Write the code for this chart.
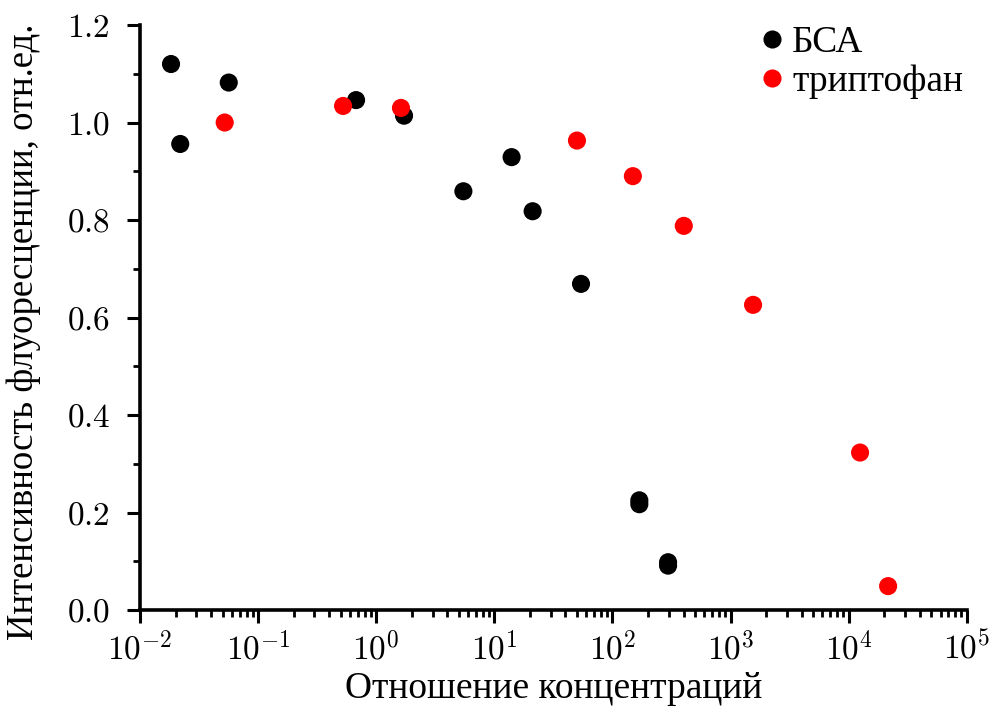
import pandas as pd, numpy as np, matplotlib
matplotlib.use("Agg")
import matplotlib.pyplot as plt, seaborn as sns
from matplotlib.ticker import FuncFormatter, MultipleLocator, LogLocator

# Данные
bsa_x = [0.0183, 0.0219, 0.0564, 0.675, 1.72, 5.47, 14.0, 21.1, 54.2, 169, 169, 296, 296]
bsa_y = [1.120, 0.956, 1.082, 1.046, 1.014, 0.859, 0.929, 0.818, 0.669, 0.225, 0.217, 0.098, 0.091]
trp_x = [0.0521, 0.524, 1.62, 50.1, 149, 402, 1552, 12500, 21600]
trp_y = [1.000, 1.034, 1.030, 0.963, 0.890, 0.788, 0.626, 0.323, 0.049]
séries = ["БСА", "триптофан"]
couleurs = ["black", "red"]

df = pd.concat([
    pd.DataFrame({"x": bsa_x, "y": bsa_y, "s": séries[0]}),
    pd.DataFrame({"x": trp_x, "y": trp_y, "s": séries[1]}),
])

sns.set_style("ticks")
plt.rcParams['font.family'] = ['Liberation Serif', 'DejaVu Serif']
plt.rcParams['mathtext.fontset'] = 'cm'
for k in ['text.color', 'axes.labelcolor', 'xtick.color', 'ytick.color', 'axes.edgecolor']:
    plt.rcParams[k] = 'black'

fig = plt.figure(figsize=(9.91, 7.07), dpi=100)
ax = fig.add_axes([0.1413, 0.1372, 0.9755 - 0.1413, 0.9646 - 0.1372])

sns.scatterplot(data=df, x="x", y="y", hue="s", palette=couleurs, s=170,
                edgecolor="none", ax=ax)
ax.set_xscale("log")
ax.set_xlim(1e-2, 1e5)
ax.set_ylim(0, 1.2)

for c in ["top", "right"]:
    ax.spines[c].set_visible(False)
for c in ["left", "bottom"]:
    ax.spines[c].set_linewidth(2.6)

ax.xaxis.set_major_locator(LogLocator(base=10, numticks=20))
ax.xaxis.set_minor_locator(LogLocator(base=10, subs=np.arange(2, 10), numticks=20))
ax.xaxis.set_major_formatter(FuncFormatter(lambda v, p: r"$10^{%d}$" % round(np.log10(v))))
ax.yaxis.set_major_locator(MultipleLocator(0.2))
ax.yaxis.set_minor_locator(MultipleLocator(0.1))
ax.yaxis.set_major_formatter(FuncFormatter(lambda v, p: r"$%.1f$" % v))

ax.tick_params(which="major", length=9.5, width=2.2, labelsize=24, direction="out")
ax.tick_params(which="minor", length=5, width=2.0, direction="out")
ax.tick_params(axis="x", pad=6)
ax.tick_params(axis="y", pad=12)

ax.set_xlabel("Отношение концентраций", fontsize=27, labelpad=3)
ax.set_ylabel("Интенсивность флуоресценции, отн.ед.", fontsize=26.5)
ax.yaxis.set_label_coords(-0.12, 0.476)

leg = ax.legend(title=None, frameon=False, fontsize=27, loc="upper right",
                bbox_to_anchor=(1.014, 1.024), handlelength=1.0, handletextpad=0.05,
                labelspacing=0.12, markerscale=1.0, borderaxespad=0)

fig.savefig("out.png", dpi=100)
